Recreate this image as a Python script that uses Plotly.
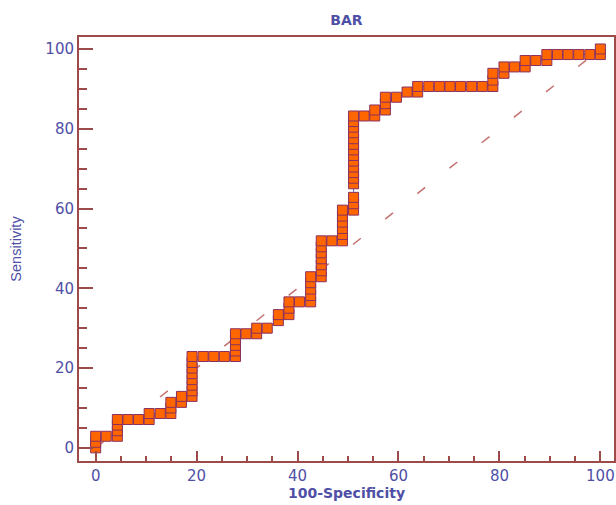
import plotly.graph_objects as go

# ROC curve points: 100-Specificity (x) and Sensitivity (y)
fpr = [0, 0, 0,
       2.1,
       4.3, 4.3, 4.3, 4.3,
       6.4, 8.5,
       10.6, 10.6,
       12.8,
       14.9, 14.9, 14.9,
       17.0, 17.0,
       19.1, 19.1, 19.1, 19.1, 19.1, 19.1, 19.1, 19.1,
       21.3, 23.4, 25.5,
       27.7, 27.7, 27.7, 27.7, 27.7,
       29.8,
       31.9, 31.9,
       34.0,
       36.2, 36.2,
       38.3, 38.3, 38.3,
       40.4,
       42.6, 42.6, 42.6, 42.6, 42.6,
       44.7, 44.7, 44.7, 44.7, 44.7, 44.7, 44.7,
       46.8,
       48.9, 48.9, 48.9, 48.9, 48.9, 48.9,
       51.1, 51.1, 51.1, 51.1, 51.1, 51.1, 51.1, 51.1,
       51.1, 51.1, 51.1, 51.1, 51.1, 51.1, 51.1, 51.1,
       53.2,
       55.3, 55.3,
       57.4, 57.4, 57.4,
       59.6,
       61.7,
       63.8, 63.8,
       66.0, 68.1, 70.2, 72.3, 74.5, 76.6,
       78.7, 78.7, 78.7,
       80.9, 80.9,
       83.0,
       85.1, 85.1,
       87.2,
       89.4, 89.4,
       91.5, 93.6, 95.7, 97.9,
       100, 100]

sens = [0, 1.4, 2.9,
        2.9,
        2.9, 4.3, 5.7, 7.1,
        7.1, 7.1,
        7.1, 8.6,
        8.6,
        8.6, 10.0, 11.4,
        11.4, 12.9,
        12.9, 14.3, 15.7, 17.1, 18.6, 20.0, 21.4, 22.9,
        22.9, 22.9, 22.9,
        22.9, 24.3, 25.7, 27.1, 28.6,
        28.6,
        28.6, 30.0,
        30.0,
        31.9, 33.4,
        33.4, 35.0, 36.6,
        36.6,
        36.6, 38.2, 39.8, 41.4, 42.9,
        42.9, 44.4, 45.9, 47.4, 48.9, 50.4, 51.9,
        51.9,
        51.9, 53.5, 55.0, 56.6, 58.1, 59.6,
        59.6, 61.2, 62.8, 66.2, 67.6, 69.0, 70.4, 71.9,
        73.3, 74.7, 76.1, 77.5, 79.0, 80.4, 81.8, 83.2,
        83.2,
        83.2, 84.7,
        84.7, 86.3, 87.9,
        87.9,
        89.2,
        89.2, 90.6,
        90.6, 90.6, 90.6, 90.6, 90.6, 90.6,
        90.6, 92.2, 93.9,
        93.9, 95.5,
        95.5,
        95.5, 97.1,
        97.1,
        97.1, 98.6,
        98.6, 98.6, 98.6, 98.6,
        98.6, 100]

ref_x = [0, 100]
ref_y = [0, 100]
tick_vals = [0, 20, 40, 60, 80, 100]
tick_text = ["0", "20", "40", "60", "80", "100"]

AXIS = "#9c4a4a"
TEXT = "#4f4fa6"

W, H = 616, 505

fig = go.Figure()
fig.add_trace(go.Scatter(
    x=ref_x, y=ref_y, mode="lines",
    line=dict(color="#c47070", width=1.5, dash="10px,31px"),
    hoverinfo="skip", showlegend=False))
fig.add_trace(go.Scatter(
    x=fpr, y=sens, mode="lines+markers",
    line=dict(color="#6464c0", width=1),
    marker=dict(symbol="square", size=10, color="#ff6600",
                line=dict(color="#8a3060", width=1)),
    hoverinfo="skip", showlegend=False))

axis_common = dict(
    showline=True, linecolor=AXIS, linewidth=2, mirror=True,
    showgrid=False, zeroline=False,
    ticks="inside", tickcolor=AXIS, tickwidth=2,
    tickvals=tick_vals, ticktext=tick_text,
    tickfont=dict(family="DejaVu Sans", size=15, color=TEXT),
)

fig.update_xaxes(
    range=[-3.3, 102.7], ticklen=10,
    minor=dict(ticks="inside", dtick=5, ticklen=5, tickwidth=2, tickcolor=AXIS),
    title=dict(text="<b>100-Specificity</b>", standoff=3,
               font=dict(family="DejaVu Sans", size=14, color=TEXT)),
    **axis_common)
fig.update_yaxes(
    range=[-3.3, 103.0], ticklen=14,
    minor=dict(ticks="inside", dtick=5, ticklen=8, tickwidth=2, tickcolor=AXIS),
    title=dict(text="Sensitivity", standoff=20,
               font=dict(family="Liberation Sans", size=14.5, color=TEXT)),
    **axis_common)

fig.update_layout(
    width=W, height=H,
    margin=dict(l=79, r=2, t=37, b=44, autoexpand=False),
    paper_bgcolor="white", plot_bgcolor="white",
    hovermode=False,
    title=dict(text="<b>BAR</b>", x=0.5, xref="paper", y=1 - 20 / H,
               yanchor="middle", xanchor="center",
               font=dict(family="DejaVu Sans", size=14, color=TEXT)),
)

# remove the page's default body margin so the figure sits at the window's corner
fig.write_html("out.html",
               config={"displayModeBar": False, "staticPlot": True},
               post_script="document.body.style.margin='0px';document.body.style.overflow='hidden';")
